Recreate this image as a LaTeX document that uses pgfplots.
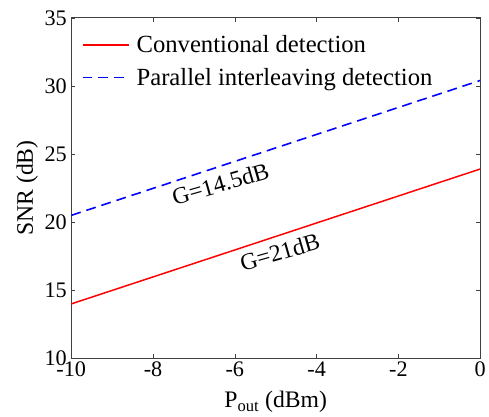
\documentclass[border=0pt]{standalone}
\usepackage{fontspec}
\setmainfont{Liberation Serif}
\usepackage{pgfplots}
\pgfplotsset{compat=1.18}
\definecolor{dblue}{RGB}{0,0,255}

\begin{document}
\begin{tikzpicture}
\begin{axis}[scale only axis,width=413bp,height=344bp,
    xmin=-10,xmax=0,ymin=10,ymax=35,
    xtick={-10,-8,-6,-4,-2,0},ytick={10,15,20,25,30,35},
    tick align=inside,major tick length=4bp,
    axis line style={line width=0.8pt,black!75},
    every tick/.style={black!75,line width=0.6pt},
    ticklabel style={font=\fontsize{22.5}{22.5}\selectfont},
    yticklabel style={xshift=-1bp},
    /pgf/number format/assume math mode=true,
    xlabel={P\textsubscript{out}\ (dBm)},ylabel={SNR (dB)},
    label style={font=\fontsize{24}{24}\selectfont},
    xlabel style={yshift=-8bp},
    legend style={at={(0.018,0.96)},anchor=north west,draw=none,fill=none,
      font=\fontsize{25}{27}\selectfont,row sep=10bp,
      /tikz/every odd column/.append style={column sep=5bp}},
    legend image code/.code={\draw[#1] plot coordinates {(0cm,0cm) (1.65cm,0cm)};},
    legend cell align=left]
  \addplot[red,line width=1.5pt] coordinates {(-10,14.0)(0,23.9)};
  \addplot[dblue,line width=1.6pt,dash pattern=on 10bp off 6bp] coordinates {(-10,20.5)(0,30.4)};
  \legend{Conventional detection,Parallel interleaving detection}
  \node[rotate=16,font=\fontsize{24}{24}\selectfont,inner sep=0pt] at (axis cs:-6.35,22.8) {G=14.5dB};
  \node[rotate=16,font=\fontsize{24}{24}\selectfont,inner sep=0pt] at (axis cs:-4.9,17.8) {G=21dB};
\end{axis}
\path (current axis.south west) ++(-72bp,-57bp);
\path (current axis.north east) ++(7bp,18bp);
\end{tikzpicture}
\end{document}
